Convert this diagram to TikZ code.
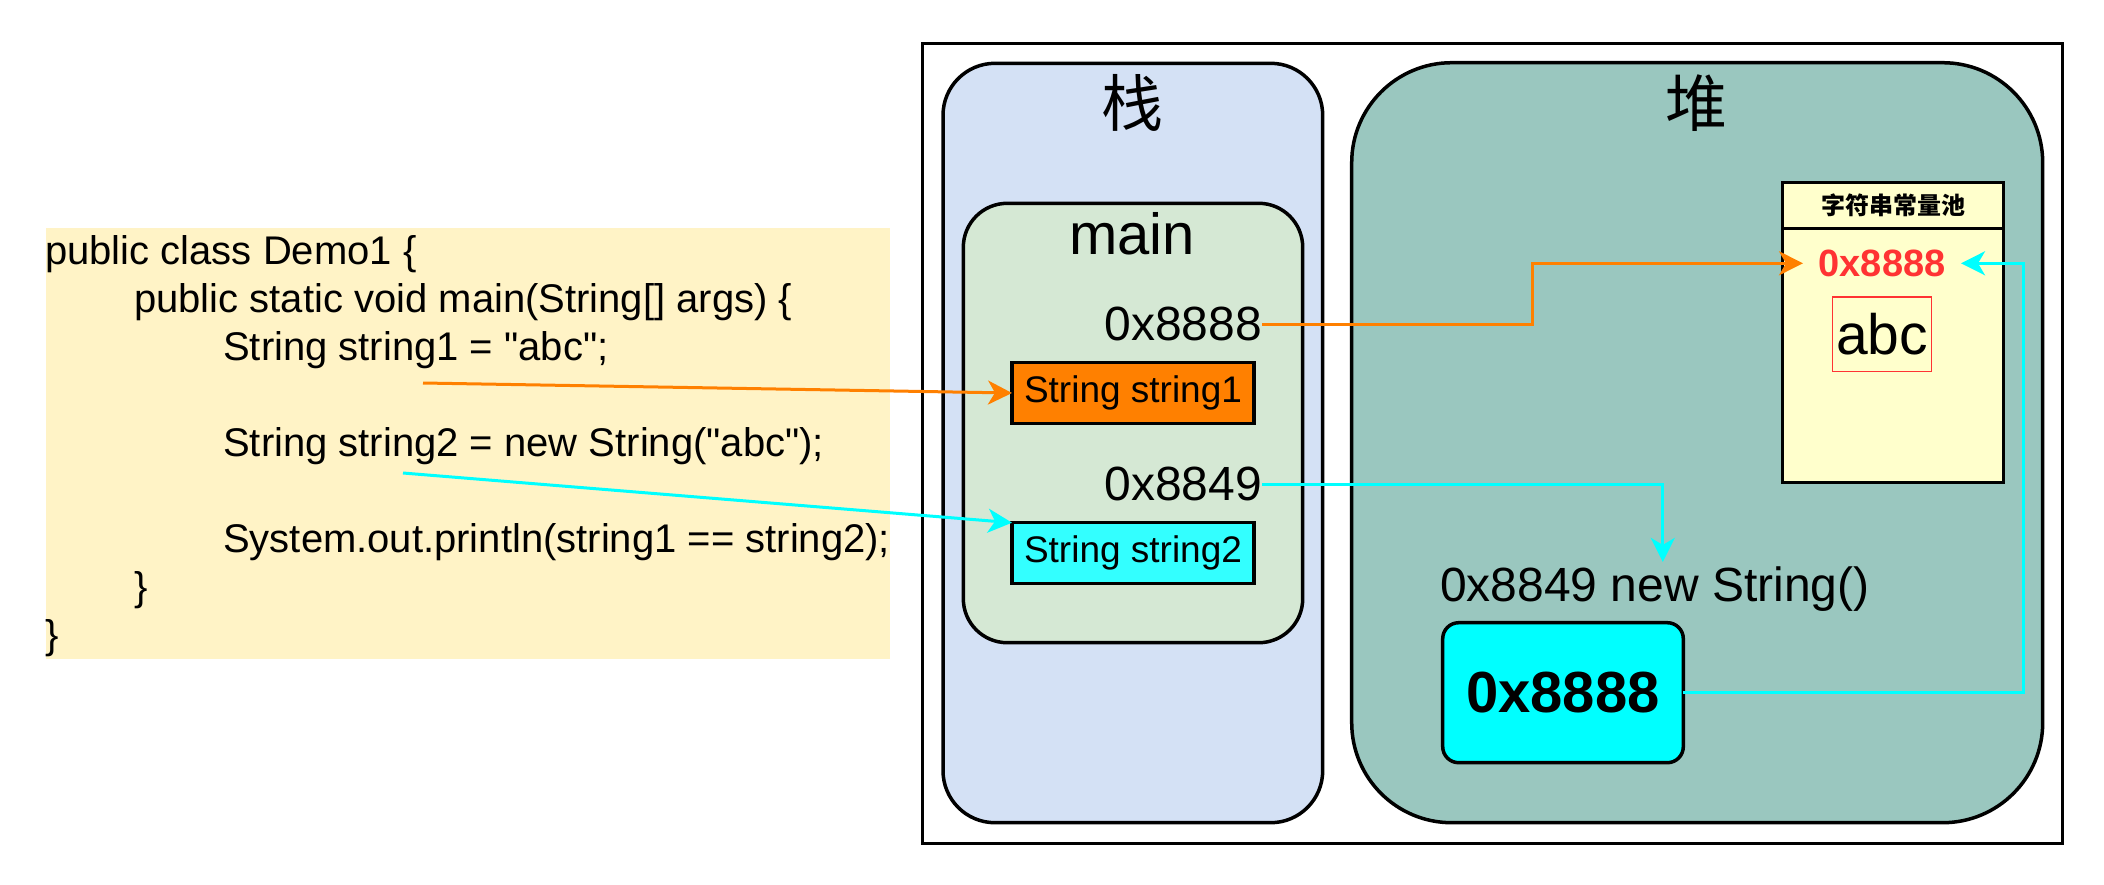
\documentclass[tikz,border=0pt]{standalone}
\usepackage{fontspec}
\setmainfont{Liberation Sans}[Ligatures=TeXOff]
\newfontfamily\cjk{Noto Sans CJK SC}
\usetikzlibrary{arrows.meta}
\definecolor{stackc}{HTML}{D4E1F5}
\definecolor{mainc}{HTML}{D5E8D4}
\definecolor{heapc}{HTML}{9AC7BF}
\definecolor{codec}{HTML}{FFF3C6}
\definecolor{poolc}{HTML}{FFFFCC}
\definecolor{orangec}{HTML}{FF8000}
\definecolor{cyanc}{HTML}{00FFFF}
\definecolor{cyanl}{HTML}{33FFFF}
\definecolor{redc}{HTML}{FF3333}
\newcommand\fsz[1]{\fontsize{#1}{#1}\selectfont}
\begin{document}
\begin{tikzpicture}[x=1pt,y=-1pt,
  box/.style={draw=black, line width=3.5pt, inner sep=0pt, outer sep=0pt},
  txt/.style={inner sep=0pt, outer sep=0pt},
  codeline/.style={anchor=base west, inner sep=0pt, font=\fsz{40}},
  link/.style={line width=3pt, -{Stealth[length=24pt,width=24pt,inset=7pt]}},
]
\useasboundingbox[fill=white] (0,0) rectangle (2104,884);

% code block
\node[txt, fill=codec, minimum width=844pt, minimum height=431pt] (codebg) at (468,443.8) {};
\node[codeline] (c1) at (45,264.5) {public class Demo1 \{};
\node[codeline] (c2) at (134,312.5) {public static void main(String[] args) \{};
\node[codeline] (c3) at (223,360.5) {String string1 = "abc";};
\node[codeline] (c5) at (223,456.5) {String string2 = new String("abc");};
\node[codeline] (c7) at (223,552.5) {System.out.println(string1 == string2);};
\node[codeline] (c8) at (134,600.5) {\}};
\node[codeline] (c9) at (45,648.5) {\}};

% frames
\node[box, minimum width=1140pt, minimum height=800pt] (outer) at (1492.7,443.3) {};
\node[box, fill=stackc, rounded corners=52pt, minimum width=379.7pt, minimum height=759.4pt] (stack) at (1132.85,443) {};
\node[box, fill=heapc, rounded corners=100pt, minimum width=691pt, minimum height=760pt] (heap) at (1697.2,442.7) {};
\node[box, fill=mainc, rounded corners=44pt, minimum width=339.4pt, minimum height=439.4pt] (main) at (1133,423) {};

\node[txt, font=\cjk\fsz{62}] (stacklbl) at (1132,103) {栈};
\node[txt, font=\cjk\fsz{62}] (heaplbl) at (1696,103) {堆};
\node[txt, anchor=base, font=\fsz{58}] (mainlbl) at (1132,254) {main};

\node[txt, anchor=base east, font=\fsz{48}] (addr1) at (1262,340.7) {0x8888};
\node[txt, anchor=base east, font=\fsz{48}] (addr2) at (1262,500.7) {0x8849};

\node[box, fill=orangec, minimum width=242pt, minimum height=60.6pt, font=\fsz{37}] (string1) at (1133,393) {String string1};
\node[box, fill=cyanl, minimum width=242pt, minimum height=60.6pt, font=\fsz{37}] (string2) at (1133,553) {String string2};

% string pool
\node[box, fill=poolc, minimum width=220.6pt, minimum height=45.6pt, font=\cjk\bfseries\fsz{24}] (poolhead) at (1893,205.5) {字符串常量池};
\node[box, fill=poolc, minimum width=220.6pt, minimum height=254.4pt] (pool) at (1893,355.5) {};
\node[txt, minimum width=158pt, text=redc, font=\bfseries\fsz{38}] (pooladdr) at (1882,263.3) {0x8888};
\node[txt, draw=redc, line width=1.3pt, minimum width=98.6pt, minimum height=74.3pt, font=\fsz{57}] (abc) at (1882,334) {abc};

% heap object
\node[anchor=base west, inner xsep=0pt, inner ysep=5pt, outer sep=0pt, font=\fsz{48}] (newstr) at (1440,601.7) {0x8849 new String()};
\node[box, fill=cyanc, rounded corners=16pt, minimum width=240.6pt, minimum height=140pt, font=\bfseries\fsz{58}] (bigbox) at (1563,692.7) {0x8888};

% connectors
\coordinate (s1) at (423,383);
\coordinate (s2) at (403,473);
\coordinate (oturn) at (1532.7,263.3);
\coordinate (cturn) at (2023.3,263.3);
\draw[link, draw=orangec] (s1) -- (string1.west);
\draw[link, draw=cyanc] (s2) -- (string2.north west);
\draw[link, draw=orangec] (addr1.east) -| (oturn) -- (pooladdr.west);
\draw[link, draw=cyanc] (addr2.east) -| ([xshift=8pt]newstr.north);
\draw[link, draw=cyanc] (bigbox.east) -| (cturn) -- (pooladdr.east);
\end{tikzpicture}
\end{document}
